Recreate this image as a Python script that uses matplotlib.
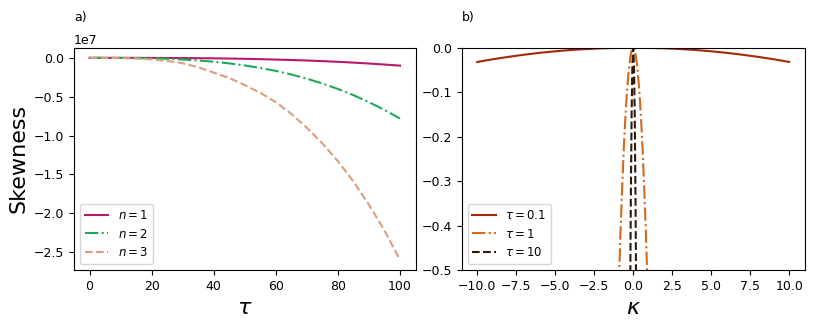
import matplotlib
matplotlib.use('Agg')
import matplotlib.pyplot as plt

# panel a): skewness vs tau for n = 1, 2, 3 (values read from the figure)
tau = [0, 5, 10, 15, 20, 25, 30, 35, 40, 45, 50, 55, 60, 65, 70, 75, 80, 85, 90, 95, 100]
skew_n1 = [0, 0, 0, 0, -0.001e7, -0.0017e7, -0.003e7, -0.0045e7, -0.006e7, -0.009e7, -0.0125e7,
           -0.017e7, -0.022e7, -0.028e7, -0.034e7, -0.042e7, -0.051e7, -0.061e7, -0.073e7, -0.086e7, -0.1e7]
skew_n2 = [0, 0, -0.001e7, -0.003e7, -0.006e7, -0.012e7, -0.021e7, -0.034e7, -0.05e7, -0.071e7, -0.098e7,
           -0.13e7, -0.168e7, -0.214e7, -0.268e7, -0.33e7, -0.40e7, -0.48e7, -0.57e7, -0.67e7, -0.78e7]
skew_n3 = [0, 0, -0.003e7, -0.009e7, -0.02e7, -0.04e7, -0.07e7, -0.12e7, -0.19e7, -0.26e7, -0.35e7,
           -0.45e7, -0.57e7, -0.72e7, -0.90e7, -1.10e7, -1.33e7, -1.59e7, -1.89e7, -2.22e7, -2.6e7]

# panel b): skewness vs kappa for tau = 0.1, 1, 10
kappa_01 = [-10, -9, -8, -7, -6, -5, -4, -3, -2, -1, 0, 1, 2, 3, 4, 5, 6, 7, 8, 9, 10]
skew_t01 = [-0.032, -0.0259, -0.0205, -0.0157, -0.0115, -0.008, -0.0051, -0.0029, -0.0013, -0.0003, 0,
            -0.0003, -0.0013, -0.0029, -0.0051, -0.008, -0.0115, -0.0157, -0.0205, -0.0259, -0.032]
kappa_1 = [-1.0, -0.9, -0.8, -0.7, -0.6, -0.5, -0.4, -0.3, -0.2, -0.1, 0, 0.1, 0.2, 0.3, 0.4, 0.5, 0.6, 0.7, 0.8, 0.9, 1.0]
skew_t1 = [-0.63, -0.51, -0.40, -0.31, -0.225, -0.157, -0.10, -0.057, -0.025, -0.006, 0,
           -0.006, -0.025, -0.057, -0.10, -0.157, -0.225, -0.31, -0.40, -0.51, -0.63]
kappa_10 = [-0.25, -0.2, -0.15, -0.1, -0.05, 0, 0.05, 0.1, 0.15, 0.2, 0.25]
skew_t10 = [-0.94, -0.60, -0.34, -0.15, -0.038, 0, -0.038, -0.15, -0.34, -0.60, -0.94]
kappa_ticks = [-10.0, -7.5, -5.0, -2.5, 0.0, 2.5, 5.0, 7.5, 10.0]

fig = plt.figure(figsize=(8.17, 3.27), dpi=100)
ax1 = fig.add_axes([0.0906, 0.174, 0.418, 0.680])
ax2 = fig.add_axes([0.565, 0.174, 0.420, 0.680])

ax1.plot(tau, skew_n1, '-', color='#b8196a', label=r'$n=1$')
ax1.plot(tau, skew_n2, '-.', color='#1fa85a', label=r'$n=2$')
ax1.plot(tau, skew_n3, '--', color='#d9a07d', label=r'$n=3$')
ax1.set_xlabel(r'$\tau$', fontsize=16)
ax1.set_ylabel('Skewness', fontsize=16)
ax1.tick_params(labelsize=9)
ax1.yaxis.get_offset_text().set_fontsize(9)
ax1.legend(loc='lower left', fontsize=8.5)
ax1.text(0, 1.12, 'a)', transform=ax1.transAxes, fontsize=9)

ax2.plot(kappa_01, skew_t01, '-', color='#a3290a', label=r'$\tau=0.1$')
ax2.plot(kappa_1, skew_t1, '-.', color='#d4681b', label=r'$\tau=1$')
ax2.plot(kappa_10, skew_t10, '--', color='#2e1a0a', label=r'$\tau=10$')
ax2.set_ylim(-0.5, 0)
ax2.set_xticks(kappa_ticks)
ax2.set_xlabel(r'$\kappa$', fontsize=16)
ax2.tick_params(labelsize=9)
ax2.legend(loc='lower left', fontsize=8.5)
ax2.text(0, 1.12, 'b)', transform=ax2.transAxes, fontsize=9)

fig.savefig('out.png', dpi=100)
